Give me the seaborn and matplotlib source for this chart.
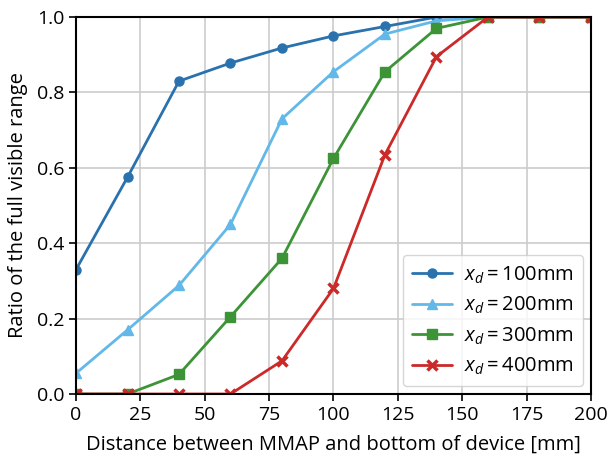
import matplotlib
matplotlib.use("Agg")
import matplotlib.pyplot as plt
import seaborn as sns
import pandas as pd

distance = [0, 20, 40, 60, 80, 100, 120, 140, 160, 180, 200]
ratio_100 = [0.33, 0.575, 0.83, 0.878, 0.918, 0.95, 0.975, 1.0, 1.0, 1.0, 1.0]
ratio_200 = [0.055, 0.17, 0.288, 0.45, 0.73, 0.855, 0.955, 0.99, 1.0, 1.0, 1.0]
ratio_300 = [0.0, 0.0, 0.052, 0.205, 0.36, 0.625, 0.855, 0.97, 1.0, 1.0, 1.0]
ratio_400 = [0.0, 0.0, 0.0, 0.0, 0.088, 0.28, 0.635, 0.895, 1.0, 1.0, 1.0]
labels = [r"$x_d = 100$mm", r"$x_d = 200$mm", r"$x_d = 300$mm", r"$x_d = 400$mm"]
colors = ["#2a72ad", "#62b8e8", "#3c9436", "#cc2929"]
markers = ["o", "^", "s", "x"]

sns.set_theme(style="whitegrid")
plt.rcParams["font.family"] = ["Open Sans", "DejaVu Sans"]
plt.rcParams["mathtext.fontset"] = "custom"
plt.rcParams["mathtext.it"] = "Open Sans:italic"
plt.rcParams["mathtext.rm"] = "Open Sans"
plt.rcParams["text.color"] = "black"
plt.rcParams["axes.labelcolor"] = "black"

rows = []
for lab, ys in zip(labels, [ratio_100, ratio_200, ratio_300, ratio_400]):
    for x, y in zip(distance, ys):
        rows.append({"d": x, "r": y, "series": lab})
df = pd.DataFrame(rows)

fig = plt.figure(figsize=(6.09, 4.61), dpi=100)
ax = fig.add_axes([0.1248, 0.1453, 0.8456, 0.8177])
for lab, col, mk in zip(labels, colors, markers):
    sub = df[df.series == lab]
    sns.lineplot(data=sub, x="d", y="r", ax=ax, color=col, marker=mk,
                 markersize=6.5 if mk != "x" else 7,
                 markeredgecolor=col, linewidth=2, label=lab,
                 markeredgewidth=1 if mk != "x" else 2.5)

ax.set_xlim(0, 200)
ax.set_ylim(0, 1.0)
ax.set_xticks([0, 25, 50, 75, 100, 125, 150, 175, 200])
ax.set_yticks([0.0, 0.2, 0.4, 0.6, 0.8, 1.0])
ax.set_yticklabels(["0.0", "0.2", "0.4", "0.6", "0.8", "1.0"])
ax.grid(True, color="#cccccc", linewidth=1.2)
for s in ax.spines.values():
    s.set_color("black")
    s.set_linewidth(1.5)
ax.tick_params(axis="both", labelsize=14, colors="black", length=5, width=1.2, direction="out",
               bottom=True, left=True)
ax.set_xlabel("Distance between MMAP and bottom of device [mm]", fontsize=14.5, labelpad=8)
ax.set_ylabel("Ratio of the full visible range", fontsize=14.5, labelpad=6)
leg = ax.legend(loc="lower right", fontsize=14.5, frameon=True, handlelength=2.0,
                borderpad=0.45, labelspacing=0.45, handletextpad=0.6, borderaxespad=0.4)
leg.get_frame().set_edgecolor("#cccccc")
fig.savefig("out.png", dpi=100)
